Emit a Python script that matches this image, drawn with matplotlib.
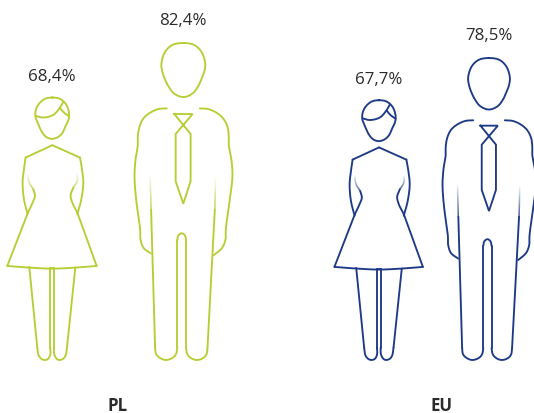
import numpy as np
import matplotlib
matplotlib.use("Agg")
import matplotlib.pyplot as plt
from matplotlib.collections import LineCollection

# --- data ---
groups = ["PL", "EU"]
women = [68.4, 67.7]
men = [82.4, 78.5]

GREEN = "#b4cf35"
NAVY = "#1e3a86"
PX_PER_PCT = 3.847
BASE_Y = 361
LW = 1.35

def smooth(pts, closed=False, n=10):
    """Centripetal Catmull-Rom through the given outline points."""
    p = np.asarray(pts, float)
    if closed:
        p = np.vstack([p[-1], p, p[0], p[1]])
    else:
        p = np.vstack([2*p[0]-p[1], p, 2*p[-1]-p[-2]])
    out = []
    for i in range(1, len(p)-2):
        P0, P1, P2, P3 = p[i-1], p[i], p[i+1], p[i+2]
        t0 = 0.0
        t1 = t0+np.linalg.norm(P1-P0)**.5
        t2 = t1+np.linalg.norm(P2-P1)**.5
        t3 = t2+np.linalg.norm(P3-P2)**.5
        for t in np.linspace(t1, t2, n, endpoint=False):
            A1 = (t1-t)/(t1-t0)*P0+(t-t0)/(t1-t0)*P1
            A2 = (t2-t)/(t2-t1)*P1+(t-t1)/(t2-t1)*P2
            A3 = (t3-t)/(t3-t2)*P2+(t-t2)/(t3-t2)*P3
            B1 = (t2-t)/(t2-t0)*A1+(t-t0)/(t2-t0)*A2
            B2 = (t3-t)/(t3-t1)*A2+(t-t1)/(t3-t1)*A3
            out.append((t2-t)/(t2-t1)*B1+(t-t1)/(t2-t1)*B2)
    out.append(p[-2])
    return np.array(out)

# Outline glyphs, in units of the zoomed drawing (x, y down)
M_CX, M_BOT, M_H = 175, 993, 955
man_head = [(175,38),(208,44),(230,65),(241,100),(238,125),(229,148),(220,168),(203,190),(175,201),(147,190),(130,168),(120,148),(112,125),(109,100),(120,65),(142,44)]
man_pieces = [
    [(125,235),(100,237),(75,248),(55,265),(43,290),(38,320),(38,345),(31,390),(28,440),(33,510),(45,600),(46,630),(55,655),(77,672)],
    [(225,235),(250,237),(275,248),(295,265),(308,290),(312,320),(312,345),(320,390),(323,440),(315,510),(303,600),(302,630),(292,655),(267,677)],
    [(78,540),(90,955)],
    [(90,955),(93,975),(105,987),(122,993),(142,987),(153,975),(157,955)],
    [(157,955),(157,632)],
    [(157,632),(160,618),(170,611),(180,618),(183,632)],
    [(183,632),(183,955)],
    [(183,955),(187,975),(198,987),(215,993),(235,987),(245,975),(248,955)],
    [(248,955),(270,540)],
]
man_fades = [[(75,435),(76,470),(77,505),(78,540)], [(272,440),(271.5,475),(271,505),(270,540)]]
man_tie = [(148,252),(203,252),(152,312),(152,455),(175,522),(197,455),(197,312),(148,252)]

W_CX, W_BOT, W_H = 157, 932, 789
w_head = [(157,145),(180,149),(198,165),(207,190),(206,210),(198,228),(188,250),(175,263),(157,269),(140,264),(127,250),(115,225),(107,205),(107,185),(116,165),(135,149)]
w_pieces = [
    [(107,200),(130,205),(160,197),(178,178),(190,158)],
    [(180,176),(192,190),(207,201)],
    [(157,288),(77,325)],
    [(157,288),(240,325)],
    [(77,325),(72,360),(68,400),(72,450),(83,495)],
    [(240,325),(246,360),(250,400),(244,450),(232,495)],
    [(22,650),(84,490)],
    [(290,650),(232,490)],
    [(84,490),(98,460),(105,440),(100,420)],
    [(232,490),(217,460),(212,438),(220,415)],
    [(22,650),(90,655),(157,658),(225,655),(290,650)],
    [(88,653),(112,895)],
    [(112,895),(116,918),(125,929),(135,932),(145,928),(151,915),(151,895)],
    [(151,895),(151,655)],
    [(151,655),(162,655)],
    [(162,655),(162,895)],
    [(162,895),(163,915),(170,928),(178,932),(190,928),(197,918),(201,895)],
    [(201,895),(226,655)],
]
w_fades = [[(100,420),(87,398),(83,370)], [(220,415),(232,395),(232,370)]]

fig = plt.figure(figsize=(5.34, 4.14), dpi=100)
ax = fig.add_axes([0, 0, 1, 1])
ax.set_xlim(0, 534); ax.set_ylim(414, 0); ax.axis("off")

def draw(value, x0, color, cx, bot, h, closed, pieces, straight, fades, fade_out):
    s = value*PX_PER_PCT/h
    T = lambda a: np.column_stack([x0+(a[:,0]-cx)*s, BASE_Y+(a[:,1]-bot)*s])
    a = T(smooth(closed, True))
    a = np.vstack([a, a[:1]])
    ax.plot(a[:,0], a[:,1], color=color, lw=LW, solid_joinstyle="round")
    for pts in pieces:
        a = T(smooth(pts))
        ax.plot(a[:,0], a[:,1], color=color, lw=LW, solid_capstyle="round", solid_joinstyle="round")
    for pts in straight:
        a = T(np.array(pts, float))
        ax.plot(a[:,0], a[:,1], color=color, lw=LW, solid_joinstyle="miter")
    rgb = matplotlib.colors.to_rgb(color)
    for pts in fades:
        a = T(smooth(pts, n=16))
        segs = np.stack([a[:-1], a[1:]], axis=1)
        alpha = np.linspace(1, 0, len(segs)) if fade_out else np.linspace(0, 1, len(segs))
        ax.add_collection(LineCollection(segs, colors=[(*rgb, v) for v in alpha], linewidths=LW*0.8))

def woman(v, x0, color):
    draw(v, x0, color, W_CX, W_BOT, W_H, w_head, w_pieces, [], w_fades, True)

def man(v, x0, color):
    draw(v, x0, color, M_CX, M_BOT, M_H, man_head, man_pieces, [man_tie], man_fades, False)

layout = [(52.3, 183.3, GREEN, 118), (379, 489, NAVY, 441)]
font = "Open Sans"
for g, w, m, (xw, xm, col, xl) in zip(groups, women, men, layout):
    woman(w, xw, col)
    man(m, xm, col)
    for v, x, off in ((w, xw, 20.5), (m, xm, 23)):
        ax.text(x, BASE_Y-v*PX_PER_PCT-off, f"{v:.1f}%".replace(".", ","),
                ha="center", va="center", fontsize=12.2, family=font, color="#2b2b2b")
    ax.text(xl, 406, g, ha="center", va="center", fontsize=12.2, family=font,
            fontweight="bold", color="#2b2b2b")

fig.savefig("out.png", dpi=100)
